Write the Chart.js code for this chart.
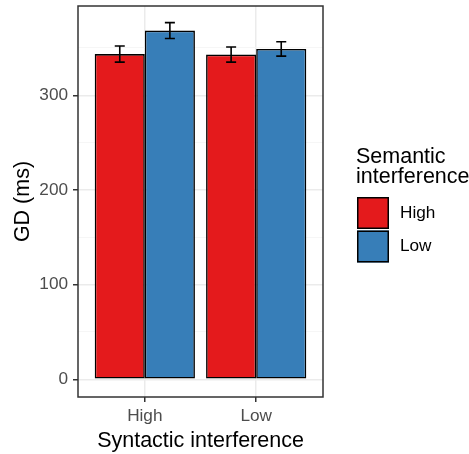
<!DOCTYPE html>
<html>
<head>
<meta charset="utf-8">
<script src="https://cdn.jsdelivr.net/npm/chart.js@4/dist/chart.umd.min.js"></script>
<style>
html,body{margin:0;padding:0;background:#fff;}
canvas{display:block;}
</style>
</head>
<body>
<canvas id="c" width="469" height="454"></canvas>
<script>
// ---- data ----
const categories = ["High", "Low"];                 // Syntactic interference
const seriesNames = ["High", "Low"];                // Semantic interference
const meanHighSemantic = [343.5, 343];
const meanLowSemantic = [368.3, 349];
const errHighSemantic = [8.5, 8];
const errLowSemantic = [8.4, 7.6];
const yTickValues = [0, 50, 100, 150, 200, 250, 300, 350];
const yLabelValues = [0, 100, 200, 300];

const FONT = '"Liberation Sans", Arial, sans-serif';
const colors = ['#E41A1C', '#377EB8'];

function toPoints(vals){ return vals.map((v,i)=>({x:i+1, y:v})); }

const errorBars = {
  id: 'errorBars',
  afterDatasetsDraw(chart){
    const ctx = chart.ctx;
    const ys = chart.scales.y, xs = chart.scales.x;
    const capHalf = Math.abs(xs.getPixelForValue(1.045) - xs.getPixelForValue(1));
    chart.data.datasets.forEach((ds, di) => {
      const meta = chart.getDatasetMeta(di);
      meta.data.forEach((bar, i) => {
        const v = ds.data[i].y, e = ds.err[i];
        const y1 = ys.getPixelForValue(v + e), y2 = ys.getPixelForValue(v - e);
        ctx.save();
        ctx.strokeStyle = '#000';
        ctx.lineWidth = 1.6;
        ctx.beginPath();
        ctx.moveTo(bar.x, y1); ctx.lineTo(bar.x, y2);
        ctx.moveTo(bar.x - capHalf, y1); ctx.lineTo(bar.x + capHalf, y1);
        ctx.moveTo(bar.x - capHalf, y2); ctx.lineTo(bar.x + capHalf, y2);
        ctx.stroke();
        ctx.restore();
      });
    });
    // panel border
    const a = chart.chartArea;
    ctx.save();
    ctx.strokeStyle = '#333333';
    ctx.lineWidth = 1.5;
    ctx.strokeRect(a.left, a.top, a.right - a.left, a.bottom - a.top);
    ctx.restore();
  }
};

const customLegend = {
  id: 'customLegend',
  afterDraw(chart){
    const ctx = chart.ctx;
    ctx.save();
    ctx.fillStyle = '#000';
    ctx.textAlign = 'left';
    ctx.textBaseline = 'alphabetic';
    ctx.font = '21.5px ' + FONT;
    ctx.fillText('Semantic', 356, 163);
    ctx.fillText('interference', 356, 182.5);
    ctx.font = '17.2px ' + FONT;
    chart.data.datasets.forEach((ds, i) => {
      const top = 197 + i * 33.5;
      ctx.fillStyle = ds.backgroundColor;
      ctx.fillRect(357, top, 32, 32);
      ctx.strokeStyle = '#000';
      ctx.lineWidth = 1.5;
      ctx.strokeRect(357.75, top + 0.75, 30.5, 30.5);
      ctx.fillStyle = '#000';
      ctx.textBaseline = 'middle';
      ctx.fillText(ds.label, 400, top + 16);
    });
    ctx.restore();
  }
};

new Chart(document.getElementById('c'), {
  type: 'bar',
  data: {
    datasets: [
      { label: seriesNames[0], data: toPoints(meanHighSemantic), err: errHighSemantic,
        backgroundColor: colors[0], borderColor: '#000', borderWidth: 1.6, borderSkipped: false },
      { label: seriesNames[1], data: toPoints(meanLowSemantic), err: errLowSemantic,
        backgroundColor: colors[1], borderColor: '#000', borderWidth: 1.6, borderSkipped: false }
    ]
  },
  options: {
    responsive: false,
    animation: false,
    events: [],
    layout: { padding: { top: 6, right: 146, bottom: 0, left: 0 } },
    datasets: { bar: { categoryPercentage: 0.9, barPercentage: 1.0, grouped: true } },
    plugins: { legend: { display: false }, tooltip: { enabled: false }, title: { display: false } },
    scales: {
      x: {
        type: 'linear',
        offset: false,
        min: 0.4, max: 2.6,
        afterBuildTicks(axis){ axis.ticks = categories.map((c,i)=>({value:i+1})); },
        afterFit(axis){ axis.height = 57; axis.paddingLeft = 0; axis.paddingRight = 0; },
        ticks: {
          callback: (v) => categories[v - 1],
          color: '#4D4D4D', font: { family: FONT, size: 17.2 }, padding: 4, maxRotation: 0, autoSkip: false
        },
        grid: { offset: false, color: '#EBEBEB', lineWidth: 1.5, tickLength: 5, tickColor: '#333333', tickWidth: 1.5 },
        border: { display: false },
        title: { display: true, text: 'Syntactic interference', color: '#000',
                 font: { family: FONT, size: 21.5 }, padding: { top: 0, bottom: 0 } }
      },
      y: {
        type: 'linear',
        min: -18.7, max: 394.3,
        afterBuildTicks(axis){ axis.ticks = yTickValues.map(v=>({value:v})); },
        afterFit(axis){ axis.width = 78; axis.paddingTop = 0; axis.paddingBottom = 0; },
        ticks: {
          callback: (v) => yLabelValues.includes(v) ? String(v) : '',
          color: '#4D4D4D', font: { family: FONT, size: 17.2 }, padding: 5, autoSkip: false
        },
        grid: {
          color: (c) => (c.tick && yLabelValues.includes(c.tick.value)) ? '#EBEBEB' : '#F4F4F4',
          lineWidth: (c) => (c.tick && yLabelValues.includes(c.tick.value)) ? 1.5 : 0.8,
          tickLength: 5,
          tickColor: (c) => (c.tick && yLabelValues.includes(c.tick.value)) ? '#333333' : 'rgba(0,0,0,0)',
          tickWidth: 1.5
        },
        border: { display: false },
        title: { display: true, text: 'GD (ms)', color: '#000',
                 font: { family: FONT, size: 21.5 }, padding: { top: 10, bottom: 0 } }
      }
    }
  },
  plugins: [errorBars, customLegend]
});
</script>
</body>
</html>
